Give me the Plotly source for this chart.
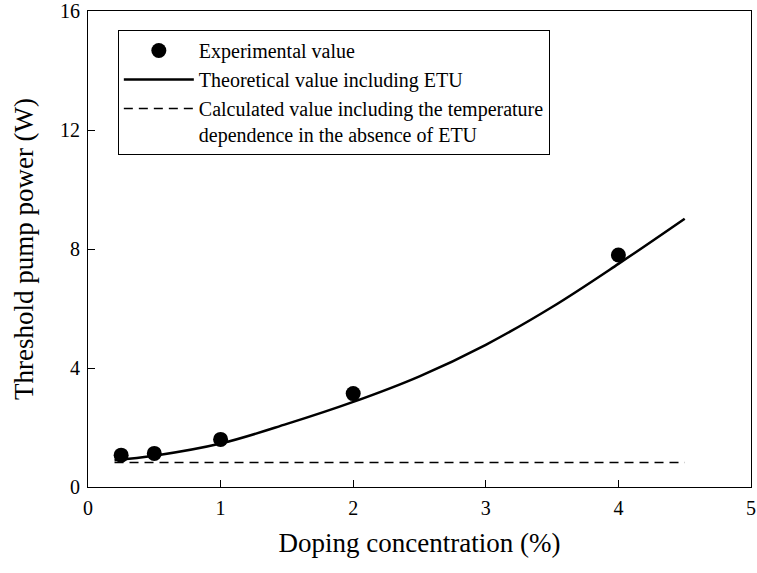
import plotly.graph_objects as go

# Experimental data
exp_x = [0.25, 0.5, 1.0, 2.0, 4.0]
exp_y = [1.07, 1.13, 1.60, 3.14, 7.80]

# Theoretical curve including ETU
theo_x = [0.2, 0.5, 1.0, 1.5, 2.0, 2.5, 3.0, 3.5, 4.0, 4.5]
theo_y = [0.90, 1.05, 1.46, 2.12, 2.86, 3.72, 4.78, 6.05, 7.50, 9.02]

# Calculated value without ETU
calc_x = [0.2, 4.5]
calc_y = [0.82, 0.82]

x_ticks = [0, 1, 2, 3, 4, 5]
y_ticks = [0, 4, 8, 12, 16]

FONT = "Liberation Serif"

fig = go.Figure()
fig.add_trace(go.Scatter(x=exp_x, y=exp_y, mode="markers", name="Experimental value",
                         marker=dict(color="black", size=15, symbol="circle")))
fig.add_trace(go.Scatter(x=theo_x, y=theo_y, mode="lines", name="Theoretical value including ETU",
                         line=dict(color="black", width=2.5, shape="spline")))
fig.add_trace(go.Scatter(x=calc_x, y=calc_y, mode="lines",
                         name="Calculated value including the temperature<br>dependence in the absence of ETU",
                         line=dict(color="black", width=1.5, dash="9px,6px")))

axis_common = dict(showline=True, linecolor="black", linewidth=1, mirror=True,
                   ticks="inside", ticklen=7, tickcolor="black", tickwidth=1,
                   showgrid=False, zeroline=False, automargin=False,
                   ticklabeloverflow="allow",
                   tickfont=dict(family=FONT, size=20, color="black"))

fig.update_layout(
    width=757, height=573,
    margin=dict(l=88, r=6, t=11, b=86),
    paper_bgcolor="white", plot_bgcolor="white",
    font=dict(family=FONT, color="black"),
    xaxis=dict(range=[0, 5], tickvals=x_ticks, ticktext=[str(v) for v in x_ticks],
               title=dict(text="Doping concentration (%)", font=dict(family=FONT, size=27), standoff=15),
               ticklabelstandoff=3, **axis_common),
    yaxis=dict(range=[0, 16], tickvals=y_ticks, ticktext=[str(v) for v in y_ticks],
               title=dict(text="Threshold pump power (W)", font=dict(family=FONT, size=27), standoff=18),
               ticklabelstandoff=3, **axis_common),
    legend=dict(x=0.045, y=0.96, xanchor="left", yanchor="top",
                bgcolor="white", bordercolor="black", borderwidth=1,
                font=dict(family=FONT, size=20, color="black"),
                valign="top", itemwidth=70, tracegroupgap=0),
    showlegend=True,
)

fig.write_html("out.html", config={"displayModeBar": False},
               post_script="document.body.style.margin='0';document.body.style.overflow='hidden';")
